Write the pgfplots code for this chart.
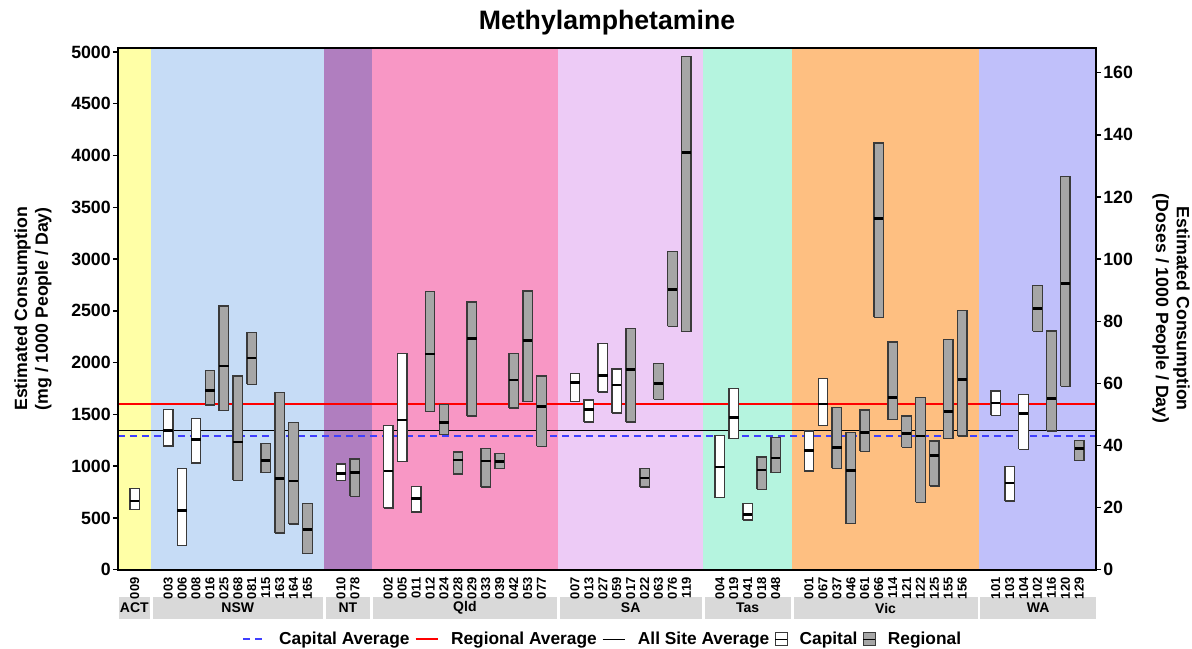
\documentclass[border=0pt]{standalone}
\usepackage{fontspec}
\setmainfont{Liberation Sans}
\usepackage{pgfplots}
\pgfplotsset{compat=1.18}

\definecolor{cACT}{HTML}{FFFFA6}
\definecolor{cNSW}{HTML}{C6DCF6}
\definecolor{cNT}{HTML}{B07EBF}
\definecolor{cQld}{HTML}{F897C5}
\definecolor{cSA}{HTML}{EDCBF6}
\definecolor{cTas}{HTML}{B5F4DF}
\definecolor{cVic}{HTML}{FEBF81}
\definecolor{cWA}{HTML}{C0C0FA}
\definecolor{stripgray}{HTML}{D9D9D9}
\definecolor{boxgray}{HTML}{A6A6A6}
\definecolor{boxedge}{HTML}{3A3A3A}
\definecolor{capblue}{HTML}{3F3FFF}

% site box: fill, position, low, median, high
\newcommand{\sitebox}[5]{%
  \addplot[forget plot, draw=boxedge, fill=#1, line width=1pt]
    coordinates {({#2-0.34},#3) ({#2+0.34},#3) ({#2+0.34},#5) ({#2-0.34},#5) ({#2-0.34},#3)};
  \addplot[forget plot, black, line width=2pt]
    coordinates {({#2-0.34},#4) ({#2+0.34},#4)};}
\newcommand{\capbox}{\sitebox{white}}
\newcommand{\regbox}{\sitebox{boxgray}}
% state strip under the axis
\newcommand{\strip}[3]{\fill[stripgray] (axis cs:#1,-266) rectangle (axis cs:#2,-479);
  \node[font=\bfseries\fontsize{10.5}{11}\selectfont] at (axis cs:{(#1+#2)/2},-372) {#3};}

\begin{document}
\begin{tikzpicture}
\begin{axis}[
  scale only axis, width=733.5pt, height=391.3pt,
  xmin=-1.2, xmax=69, ymin=0, ymax=5040,
  clip=false, axis on top,
  axis line style={line width=1.6pt},
  xtick={0,2.4,3.4,4.4,5.4,6.4,7.4,8.4,9.4,10.4,11.4,12.4,14.8,15.8,18.2,19.2,20.2,21.2,22.2,23.2,24.2,25.2,26.2,27.2,28.2,29.2,31.6,32.6,33.6,34.6,35.6,36.6,37.6,38.6,39.6,42,43,44,45,46,48.4,49.4,50.4,51.4,52.4,53.4,54.4,55.4,56.4,57.4,58.4,59.4,61.8,62.8,63.8,64.8,65.8,66.8,67.8},
  xticklabels={009,003,006,008,016,025,068,081,115,163,164,165,010,078,002,005,011,012,024,028,029,033,039,042,053,077,007,013,027,059,017,022,063,076,119,004,019,041,018,048,001,067,037,046,061,066,114,121,122,125,155,156,101,103,104,102,116,120,129},
  xtick pos=bottom, x tick style={draw=none},
  xticklabel style={rotate=90, anchor=east, font=\bfseries\fontsize{9.7}{10}\selectfont, inner xsep=2pt},
  ytick={0,500,...,5000}, ytick pos=left,
  y tick style={line width=1pt, black},
  tick align=outside, major tick length=3.75pt,
  yticklabel style={font=\bfseries\fontsize{13.3}{14}\selectfont, inner xsep=1.5pt},
  /pgf/number format/assume math mode=true,
  /pgf/number format/1000 sep={},
  scaled y ticks=false,
  legend style={at={(0.496,-0.133)}, anchor=center, draw=none, fill=none,
    legend columns=-1, font=\bfseries\fontsize{13}{15}\selectfont,
    /tikz/every even column/.append style={column sep=2pt},
    /tikz/every odd column/.append style={column sep=7pt}},
]
% state background bands
\fill[cACT] (axis cs:-1.2,0) rectangle (axis cs:1.2,5040);
\fill[cNSW] (axis cs:1.2,0) rectangle (axis cs:13.6,5040);
\fill[cNT] (axis cs:13.6,0) rectangle (axis cs:17.0,5040);
\fill[cQld] (axis cs:17.0,0) rectangle (axis cs:30.4,5040);
\fill[cSA] (axis cs:30.4,0) rectangle (axis cs:40.8,5040);
\fill[cTas] (axis cs:40.8,0) rectangle (axis cs:47.2,5040);
\fill[cVic] (axis cs:47.2,0) rectangle (axis cs:60.6,5040);
\fill[cWA] (axis cs:60.6,0) rectangle (axis cs:69,5040);

% averages
\addplot[capblue, line width=1.5pt, dash pattern=on 5pt off 4pt] coordinates {(-1.2,1295) (69,1295)};
\addlegendentry{Capital Average}
\addplot[red, line width=1pt] coordinates {(-1.2,1600) (69,1600)};
\addlegendentry{Regional Average}
\addplot[black, line width=0.8pt] coordinates {(-1.2,1340) (69,1340)};
\addlegendentry{All Site Average}
\addlegendimage{legend image code/.code={
  \draw[draw=boxedge, fill=white, line width=0.7pt] (0pt,-5pt) rectangle (9pt,5pt);
  \draw[line width=0.8pt] (0pt,0pt) -- (9pt,0pt);}}
\addlegendentry{Capital}
\addlegendimage{legend image code/.code={
  \draw[draw=boxedge, fill=boxgray, line width=0.7pt] (0pt,-5pt) rectangle (9pt,5pt);
  \draw[line width=0.8pt] (0pt,0pt) -- (9pt,0pt);}}
\addlegendentry{Regional}

% ACT
\capbox{0}{579}{663}{782}
% NSW
\capbox{2.4}{1194}{1345}{1545}
\capbox{3.4}{235}{573}{975}
\capbox{4.4}{1030}{1258}{1458}
\regbox{5.4}{1590}{1731}{1924}
\regbox{6.4}{1535}{1969}{2548}
\regbox{7.4}{863}{1233}{1870}
\regbox{8.4}{1789}{2046}{2291}
\regbox{9.4}{936}{1056}{1216}
\regbox{10.4}{354}{882}{1709}
\regbox{11.4}{441}{856}{1419}
\regbox{12.4}{155}{390}{641}
% NT
\capbox{14.8}{859}{927}{1020}
\regbox{15.8}{708}{937}{1068}
% Qld
\capbox{18.2}{596}{953}{1390}
\capbox{19.2}{1043}{1445}{2085}
\capbox{20.2}{557}{689}{805}
\regbox{21.2}{1529}{2082}{2690}
\regbox{22.2}{1303}{1423}{1593}
\regbox{23.2}{924}{1059}{1136}
\regbox{24.2}{1484}{2236}{2587}
\regbox{25.2}{798}{1049}{1172}
\regbox{26.2}{975}{1043}{1123}
\regbox{27.2}{1561}{1831}{2085}
\regbox{28.2}{1622}{2214}{2693}
\regbox{29.2}{1191}{1574}{1870}
% SA
\capbox{31.6}{1627}{1811}{1892}
\capbox{32.6}{1426}{1549}{1638}
\capbox{33.6}{1716}{1876}{2186}
\capbox{34.6}{1514}{1785}{1937}
\regbox{35.6}{1426}{1931}{2329}
\regbox{36.6}{799}{887}{975}
\regbox{37.6}{1644}{1801}{1990}
\regbox{38.6}{2349}{2705}{3073}
\regbox{39.6}{2300}{4030}{4956}
% Tas
\capbox{42}{695}{991}{1297}
\capbox{43}{1265}{1471}{1751}
\capbox{44}{480}{531}{637}
\regbox{45}{776}{962}{1088}
\regbox{46}{936}{1078}{1274}
% Vic
\capbox{48.4}{953}{1149}{1339}
\capbox{49.4}{1393}{1599}{1847}
\regbox{50.4}{978}{1181}{1564}
\regbox{51.4}{444}{959}{1322}
\regbox{52.4}{1143}{1326}{1541}
\regbox{53.4}{2439}{3395}{4122}
\regbox{54.4}{1448}{1664}{2198}
\regbox{55.4}{1181}{1313}{1484}
\regbox{56.4}{650}{1291}{1660}
\regbox{57.4}{808}{1100}{1242}
\regbox{58.4}{1265}{1529}{2224}
\regbox{59.4}{1291}{1834}{2504}
% WA
\capbox{61.8}{1490}{1609}{1725}
\capbox{62.8}{663}{837}{994}
\capbox{63.8}{1162}{1509}{1689}
\regbox{64.8}{2301}{2523}{2748}
\regbox{65.8}{1339}{1654}{2304}
\regbox{66.8}{1770}{2764}{3800}
\regbox{67.8}{1052}{1168}{1245}

% state strips
\strip{-1.15}{1.1}{ACT}
\strip{1.3}{13.5}{NSW}
\strip{13.7}{16.9}{NT}
\strip{17.1}{30.3}{Qld}
\strip{30.5}{40.7}{SA}
\strip{40.9}{47.1}{Tas}
\strip{47.3}{60.5}{Vic}
\strip{60.7}{69}{WA}

\node[font=\bfseries\fontsize{20}{24}\selectfont] at (rel axis cs:0.5,1.0479) {Methylamphetamine};
\node[rotate=90, align=center, font=\bfseries\fontsize{13.3}{15.5}\selectfont] at (rel axis cs:-0.0869,0.5)
  {Estimated Consumption\\(mg / 1000 People / Day)};
\node[rotate=-90, align=center, font=\bfseries\fontsize{13.3}{15.5}\selectfont] at (rel axis cs:1.0767,0.5)
  {Estimated Consumption\\(Doses / 1000 People / Day)};
\coordinate (sw) at (rel axis cs:0,0);
\end{axis}

\begin{axis}[
  scale only axis, width=733.5pt, height=391.3pt,
  xmin=-1.2, xmax=69, ymin=0, ymax=168,
  axis x line=none, axis y line*=right,
  axis line style={line width=1.6pt},
  ytick={0,20,...,160},
  y tick style={line width=1pt, black},
  tick align=outside, major tick length=3.75pt,
  yticklabel style={font=\bfseries\fontsize{13.3}{14}\selectfont, inner xsep=1.5pt},
  /pgf/number format/assume math mode=true,
]
\addplot[draw=none] coordinates {(0,0) (1,1)};
\end{axis}
\pgfresetboundingbox
\path[use as bounding box] (sw) ++(-88.5pt,-59.5pt) rectangle ++(894pt,486.75pt);
\end{tikzpicture}
\end{document}
